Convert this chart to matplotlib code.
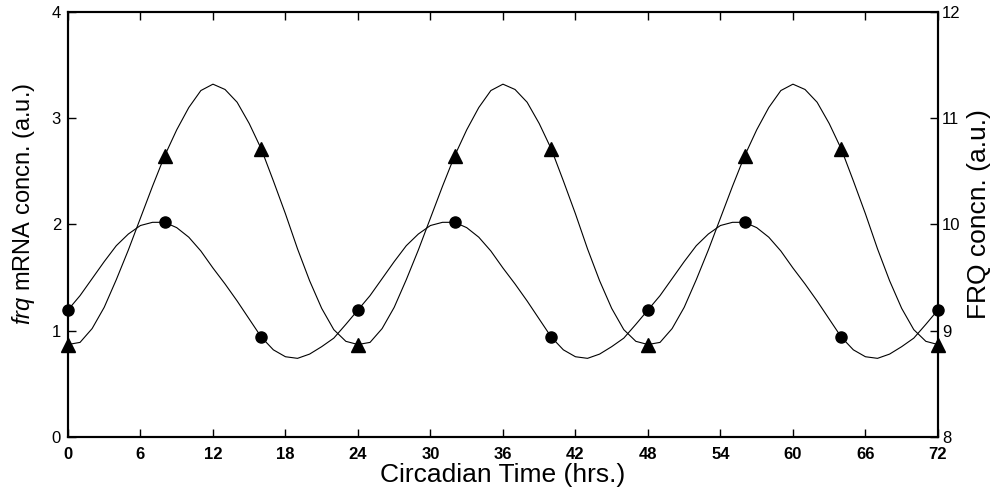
"""frq mRNA / FRQ protein oscillation over three circadian cycles."""

import numpy as np
import matplotlib
matplotlib.use("Agg")
import matplotlib.pyplot as plt

plt.rcParams.update({
    "font.family": ["Liberation Sans", "DejaVu Sans"],
    "mathtext.fontset": "custom",
    "mathtext.it": "Liberation Sans:italic",
    "mathtext.rm": "Liberation Sans",
    "axes.linewidth": 1.5,
    "xtick.direction": "in", "ytick.direction": "in",
    "xtick.major.size": 6, "ytick.major.size": 6,
    "xtick.major.width": 1.0, "ytick.major.width": 1.0,
})

# one 24 h cycle, read hourly (CT 0..23); the chart repeats it three times
MRNA_CYCLE = [1.195, 1.33, 1.49, 1.65, 1.80, 1.91, 1.99, 2.02, 2.02, 1.97, 1.88, 1.75,
              1.59, 1.44, 1.28, 1.11, 0.94, 0.82, 0.755, 0.74, 0.78, 0.85, 0.93, 1.06]
FRQ_CYCLE = [8.87, 8.89, 9.02, 9.22, 9.48, 9.76, 10.06, 10.36, 10.645, 10.89, 11.10, 11.26,
             11.32, 11.27, 11.15, 10.95, 10.71, 10.41, 10.10, 9.77, 9.47, 9.21, 9.01, 8.90]
N_CYCLES = 3

hours = np.arange(0, 24 * N_CYCLES + 1)
mrna = np.array(MRNA_CYCLE * N_CYCLES + MRNA_CYCLE[:1])
frq = np.array(FRQ_CYCLE * N_CYCLES + FRQ_CYCLE[:1])

XTICKS = list(range(0, 73, 6))
MARK_EVERY = 8

fig = plt.figure(figsize=(9.92, 4.96), dpi=100)
ax = fig.add_axes([0.0685, 0.119, 0.877, 0.857])
ax2 = ax.twinx()

ax.plot(hours, mrna, color="black", lw=0.8, marker="o", ms=8,
        markevery=MARK_EVERY, clip_on=False, zorder=3)
ax2.plot(hours, frq, color="black", lw=0.8, marker="^", ms=9.5,
         markevery=MARK_EVERY, clip_on=False, zorder=3)

ax.set_xlim(0, 72)
ax.set_ylim(0, 4)
ax2.set_ylim(8, 12)
ax.set_xticks(XTICKS)
ax.set_yticks([0, 1, 2, 3, 4])
ax2.set_yticks([8, 9, 10, 11, 12])

ax.tick_params(axis="x", top=True, labelsize=12, pad=7)
ax.tick_params(axis="y", labelsize=12, pad=5)
ax2.tick_params(axis="y", labelsize=12, pad=3)
for lab in ax.get_xticklabels():
    lab.set_fontweight("bold")

for a in (ax, ax2):
    for s in a.spines.values():
        s.set_linewidth(1.5)

ax.set_xlabel("Circadian Time (hrs.)", fontsize=19, labelpad=1)
ax.set_ylabel(r"$\it{frq}$ mRNA concn. (a.u.)", fontsize=17)
ax.yaxis.set_label_coords(-0.036, 0.548)
ax2.set_ylabel("FRQ concn. (a.u.)", fontsize=19)
ax2.yaxis.set_label_coords(1.033, 0.525)

fig.savefig("out.png", dpi=100)
plt.close(fig)
